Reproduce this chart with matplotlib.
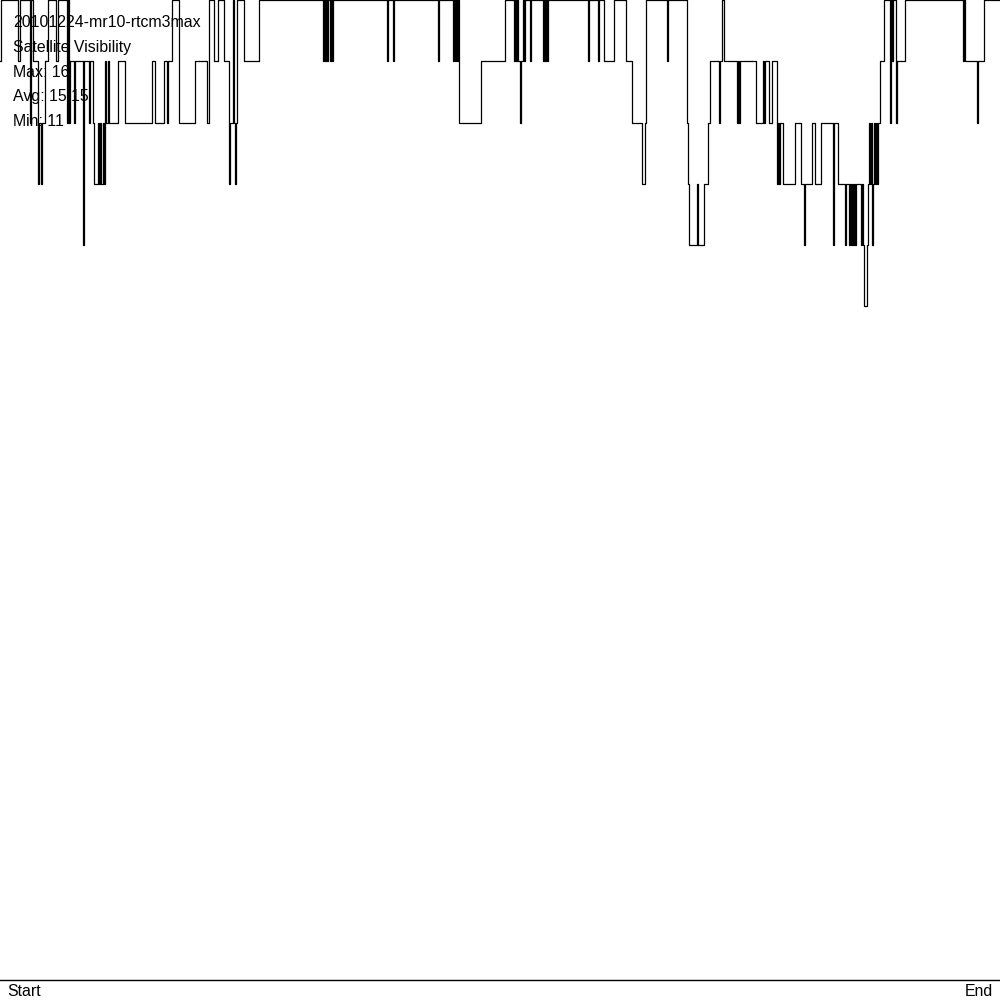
import numpy as np
import matplotlib
matplotlib.use('Agg')
import matplotlib.pyplot as plt

# satellite count per epoch, run-length coded: epoch where the value starts, and the value
seg_start = [0, 1, 18, 20, 30, 31, 33, 38, 39, 41, 42, 45, 48, 56, 58, 67, 68, 69, 70, 74,
             75, 83, 84, 89, 90, 93, 94, 98, 99, 100, 101, 103, 104, 105, 106, 108, 109, 118, 125, 152,
             155, 164, 167, 168, 172, 179, 195, 207, 209, 214, 218, 224, 229, 230, 233, 234, 235, 236, 237, 244,
             259, 323, 324, 325, 326, 327, 328, 330, 331, 332, 333, 387, 388, 393, 394, 438, 439, 453, 454, 455,
             456, 457, 458, 459, 481, 505, 514, 515, 516, 517, 518, 520, 521, 523, 524, 525, 530, 531, 543, 544,
             545, 546, 547, 548, 588, 589, 598, 599, 604, 614, 626, 632, 642, 645, 646, 667, 668, 687, 688, 689,
             697, 698, 704, 708, 710, 719, 720, 722, 724, 737, 738, 739, 740, 756, 763, 764, 765, 769, 772, 777,
             778, 779, 780, 783, 795, 801, 804, 805, 812, 815, 821, 833, 834, 838, 845, 846, 849, 850, 851, 852,
             853, 854, 855, 856, 861, 862, 863, 864, 867, 868, 869, 870, 871, 872, 873, 874, 875, 876,
             877, 878, 880, 884, 890, 891, 892, 893, 896, 897, 905, 963, 964, 965, 977, 978, 984]
seg_value = [15, 16, 15, 16, 14, 16, 15, 13, 14, 13, 14, 15, 16, 15, 16, 14, 16, 14, 15, 14,
             15, 12, 15, 14, 15, 14, 13, 14, 13, 14, 13, 14, 13, 15, 14, 15, 14, 15, 14, 15,
             14, 15, 14, 15, 16, 14, 15, 14, 16, 15, 16, 15, 13, 14, 16, 14, 13, 14, 16, 15,
             16, 15, 16, 15, 16, 15, 16, 15, 16, 15, 16, 15, 16, 15, 16, 15, 16, 15, 16, 15,
             16, 15, 16, 14, 15, 16, 15, 16, 15, 16, 15, 14, 15, 16, 15, 16, 15, 16, 15, 16,
             15, 16, 15, 16, 15, 16, 15, 16, 15, 16, 15, 14, 13, 14, 16, 15, 16, 14, 13, 12,
             13, 12, 13, 14, 15, 14, 15, 16, 15, 14, 15, 14, 15, 14, 15, 14, 15, 14, 15, 13,
             14, 13, 14, 13, 14, 13, 12, 13, 14, 13, 14, 12, 14, 13, 12, 13, 12, 13, 12, 13,
             12, 13, 12, 13, 12, 13, 12, 11, 12, 13, 14, 13, 14, 12, 13, 14, 13, 14,
             13, 14, 15, 16, 14, 16, 15, 16, 14, 15, 16, 15, 16, 15, 14, 15, 16]
n_epochs = 1000

title_lines = ['20101224-mr10-rtcm3max', 'Satellite Visibility',
               'Max: 16', 'Avg: 15.15', 'Min: 11']

plt.rcParams['font.family'] = ['Liberation Sans', 'DejaVu Sans']

fig = plt.figure(figsize=(10, 10), dpi=100)
ax = fig.add_axes([0, 0.02, 1, 0.98])

x = np.append(seg_start, n_epochs)
y = np.append(seg_value, seg_value[-1])
ax.step(x, y, where='post', color='black', lw=0.9)

ax.set_xlim(0, n_epochs)
ax.set_ylim(0, 16)
for s in ['top', 'left', 'right']:
    ax.spines[s].set_visible(False)
ax.spines['bottom'].set_linewidth(1.0)
ax.set_xticks([])
ax.set_yticks([])

# header block, top left
for i, t in enumerate(title_lines):
    fig.text(13 / 1000, 1 - (27 + 24.8 * i) / 1000, t, fontsize=11.4, va='baseline', ha='left')

fig.text(7 / 1000, 1 - 996 / 1000, 'Start', fontsize=11.4, va='baseline', ha='left')
fig.text(993 / 1000, 1 - 996 / 1000, 'End', fontsize=11.4, va='baseline', ha='right')

fig.savefig('out.png', dpi=100, facecolor='white')
